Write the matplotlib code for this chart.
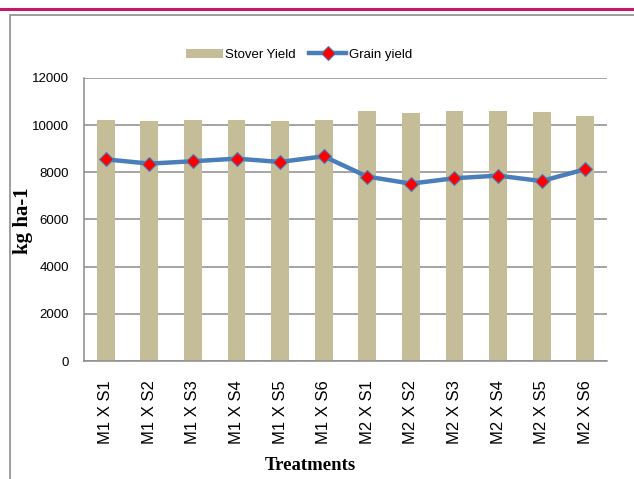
import matplotlib.pyplot as plt
from matplotlib.lines import Line2D
from matplotlib.patches import Patch, Rectangle

# data
treatments = ["M1 X S1", "M1 X S2", "M1 X S3", "M1 X S4", "M1 X S5", "M1 X S6",
              "M2 X S1", "M2 X S2", "M2 X S3", "M2 X S4", "M2 X S5", "M2 X S6"]
stover = [10210, 10170, 10210, 10210, 10170, 10210,
          10600, 10510, 10600, 10600, 10550, 10400]
grain = [8550, 8370, 8470, 8580, 8440, 8680,
         7820, 7520, 7750, 7860, 7630, 8130]
yticks = [0, 2000, 4000, 6000, 8000, 10000, 12000]

bar_col = "#C4BD97"
line_col = "#4A7EBB"
grid_col = "#8C8C8C"
sans = ["Liberation Sans", "DejaVu Sans"]
serif = ["Liberation Serif", "DejaVu Serif"]

fig = plt.figure(figsize=(6.34, 4.79), dpi=100)

# outer chart frame and magenta rule at the top
fig.add_artist(Line2D([0, 1], [1 - 8.5/479, 1 - 8.5/479], transform=fig.transFigure,
                      color="#C2186E", lw=2.2))
fig.add_artist(Rectangle((9.5/634, -0.1), 1.2, 1 - 15/479 + 0.1, transform=fig.transFigure,
                         fill=False, edgecolor="#8E8E8E", lw=1.2))

ax = fig.add_axes([84/634, 1 - 361/479, (607 - 84)/634, (361 - 78)/479])
x = list(range(len(treatments)))
ax.bar(x, stover, width=0.41, color=bar_col, zorder=2)
ax.plot(x, grain, color=line_col, lw=3.2, marker="D", markersize=7,
        markerfacecolor="red", markeredgecolor=line_col, markeredgewidth=0.8, zorder=3)

ax.set_xlim(-0.5, len(treatments) - 0.5)
ax.set_ylim(0, 12000)
ax.set_yticks(yticks)
ax.set_yticklabels([str(v) for v in yticks], fontsize=9.5, family=sans)
ax.set_xticks(x)
ax.set_xticklabels(treatments, rotation=90, fontsize=12, family=sans)
ax.yaxis.grid(True, color=grid_col, lw=1.1, zorder=1)
ax.set_axisbelow(True)
for s in ["top", "right"]:
    ax.spines[s].set_visible(False)
for s in ["left", "bottom"]:
    ax.spines[s].set_color(grid_col)
    ax.spines[s].set_linewidth(1.1)
ax.tick_params(axis="y", length=0, pad=11)
ax.tick_params(axis="x", length=0, pad=14)

# axis titles placed where the reference has them
fig.text(310/634, 1 - 466/479, "Treatments", ha="center", va="center",
         fontsize=13.5, fontweight="bold", family=serif)
fig.text(23/634, 1 - 221/479, "kg ha-1", rotation=90, ha="center", va="center",
         fontsize=15, fontweight="bold", family=serif)

handles = [Patch(facecolor=bar_col, edgecolor="none"),
           Line2D([], [], color=line_col, lw=3.2, marker="D", markersize=7,
                  markerfacecolor="red", markeredgecolor=line_col, markeredgewidth=0.8)]
fig.legend(handles, ["Stover Yield", "Grain yield"], loc="center",
           bbox_to_anchor=(299/634, 1 - 55/479), ncol=2, frameon=False,
           prop={"family": sans, "size": 9.5},
           handlelength=2.8, handletextpad=0.2, columnspacing=1.0)

fig.savefig("out.png", dpi=100)
